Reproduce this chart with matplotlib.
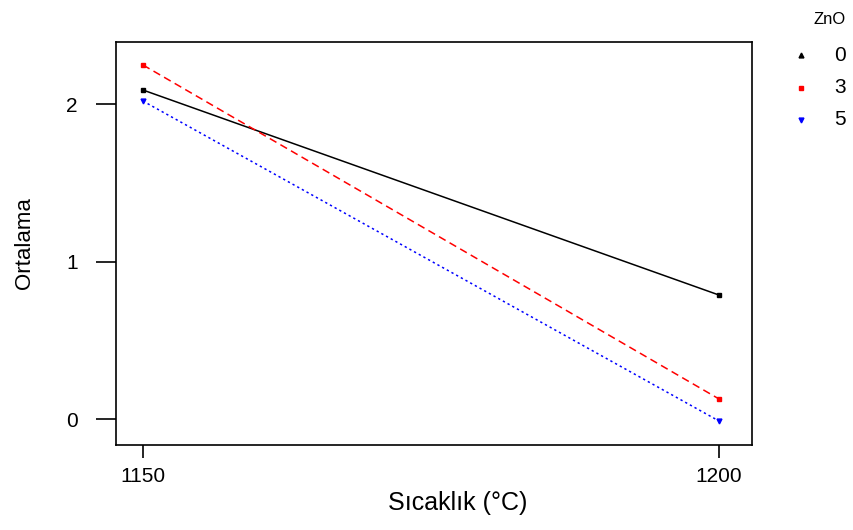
import matplotlib
matplotlib.use("Agg")
import matplotlib.pyplot as plt
from matplotlib.lines import Line2D

plt.rcParams["font.family"] = ["Liberation Sans", "DejaVu Sans"]

temps = [1150, 1200]
zno_levels = ["0", "3", "5"]
means_0 = [2.089, 0.787]
means_3 = [2.248, 0.127]
means_5 = [2.019, -0.013]

series = [means_0, means_3, means_5]
colors = ["black", "red", "blue"]
styles = ["-", (0, (5, 3)), (0, (1.5, 2))]
markers = ["s", "s", "v"]
legend_markers = ["^", "s", "v"]

fig = plt.figure(figsize=(8.54, 5.30), dpi=100)
ax = fig.add_axes([0.1358, 0.1604, 0.7448, 0.7604])

for vals, c, ls, m in zip(series, colors, styles, markers):
    ax.plot(temps, vals, color=c, linestyle=ls, linewidth=1.1,
            marker=m, markersize=3.5)

ax.set_xlim(1147.66, 1202.86)
ax.set_ylim(-0.165, 2.394)
ax.set_xticks(temps)
ax.set_yticks([0, 1, 2])
ax.tick_params(direction="out", width=1.2, labelsize=15)
ax.tick_params(axis="x", length=9.4, pad=6.5)
ax.tick_params(axis="y", length=14.4, pad=13)
for s in ax.spines.values():
    s.set_linewidth(1.2)

ax.set_xlabel("Sıcaklık (°C)", fontsize=18)
ax.xaxis.set_label_coords(0.537, -0.115)
ax.set_ylabel("Ortalama", fontsize=16)
ax.yaxis.set_label_coords(-0.128, 0.5)

# legend outside on the right
fig.text(0.972, 0.978, "ZnO", ha="center", va="top", fontsize=12)
ys = [0.896, 0.834, 0.774]
for lab, c, m, y in zip(zno_levels, colors, legend_markers, ys):
    fig.add_artist(Line2D([0.938], [y], transform=fig.transFigure,
                          marker=m, color=c, markersize=3.5, linestyle="none"))
    fig.text(0.984, y, lab, ha="center", va="center", fontsize=15)

fig.savefig("out.png", dpi=100, facecolor="white")
